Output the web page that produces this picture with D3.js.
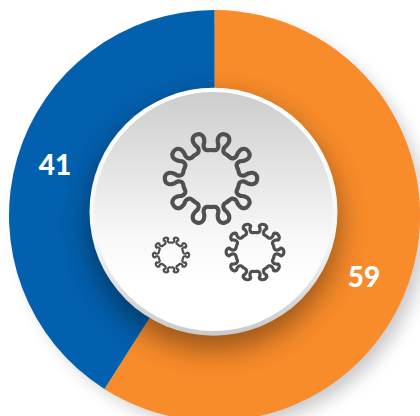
<!DOCTYPE html>
<html>
<head>
<meta charset="utf-8">
<script src="https://cdn.jsdelivr.net/npm/d3@7"></script>
<style>
    html, body { margin: 0; padding: 0; background: #fff; }
    svg { display: block; }
</style>
</head>
<body>
<svg id="chart" width="420" height="416"></svg>
<script>
const categories = ['orange', 'blue'];
const values = [59, 41];
const colors = ['#f88b2a', '#0360ae'];

const svg = d3.select('#chart');
const defs = svg.append('defs');

const cx = 214.5, cy = 215.5, outerR = 205.5;

const addBlur = (id, dev) => {
    defs.append('filter').attr('id', id)
        .attr('x', '-30%').attr('y', '-30%').attr('width', '160%').attr('height', '160%')
        .append('feGaussianBlur').attr('stdDeviation', dev);
};
addBlur('ringShadow', 9);
addBlur('discShadow', 14);

const addGradient = (id, stops) => {
    const g = defs.append('linearGradient').attr('id', id)
        .attr('x1', 0).attr('y1', 0).attr('x2', 0).attr('y2', 1);
    stops.forEach((s) => {
        g.append('stop').attr('offset', s[0]).attr('stop-color', s[1]);
    });
};
addGradient('rimFill', [[0, '#ffffff'], [0.62, '#f6f6f6'], [0.86, '#d8d8d8'], [1, '#c9c9c9']]);
addGradient('discFill', [[0, '#cdcdcd'], [0.3, '#e2e2e2'], [0.62, '#f9f9f9'], [0.8, '#ffffff'], [1, '#ffffff']]);

// soft shadow falling to the lower right of the ring
svg.append('circle')
    .attr('cx', cx + 9).attr('cy', cy + 9).attr('r', outerR - 3)
    .attr('fill', '#000').attr('opacity', 0.22)
    .attr('filter', 'url(#ringShadow)');

const pie = d3.pie().sort(null).value((d) => d.value);
const arc = d3.arc().innerRadius(100).outerRadius(outerR);
const slices = pie(categories.map((c, i) => ({name: c, value: values[i]})));

const chart = svg.append('g').attr('transform', 'translate(' + cx + ',' + cy + ')');
chart.selectAll('path.slice').data(slices).enter().append('path')
    .classed('slice', true)
    .attr('d', arc)
    .attr('fill', (d, i) => colors[i]);

// keep the disc shadow on the ring only
defs.append('clipPath').attr('id', 'ringClip').append('circle')
    .attr('cx', cx).attr('cy', cy).attr('r', outerR);
svg.append('g').attr('clip-path', 'url(#ringClip)')
    .append('circle')
    .attr('cx', 213).attr('cy', 224).attr('r', 126)
    .attr('fill', '#000').attr('opacity', 0.38)
    .attr('filter', 'url(#discShadow)');

// centre disc
svg.append('circle')
    .attr('cx', 213.5).attr('cy', 211.7).attr('r', 124)
    .attr('fill', 'url(#rimFill)');
svg.append('circle')
    .attr('cx', 213.5).attr('cy', 211.5).attr('r', 119.5)
    .attr('fill', 'url(#discFill)');

// virus outline: ring with round knobs on short necks
const virusPath = (r, tip, spikes, offset) => {
    const points = [];
    const step = 2 * Math.PI / spikes;
    // [sideways, outwards] in units of the ring radius
    const knob = [
        [-0.15, 1.0], [-0.105, 1.08], [-0.11, 1.18], [-0.175, 1.3], [-0.2, tip - 0.16],
        [-0.13, tip - 0.035], [0, tip], [0.13, tip - 0.035], [0.2, tip - 0.16],
        [0.175, 1.3], [0.11, 1.18], [0.105, 1.08], [0.15, 1.0]
    ];
    for (let k = 0; k < spikes; k++) {
        const mid = offset + k * step;
        const sin = Math.sin(mid), cos = Math.cos(mid);
        knob.forEach((p) => {
            points.push([(p[1] * sin + p[0] * cos) * r, (-p[1] * cos + p[0] * sin) * r]);
        });
        const between = mid + step / 2;
        points.push([Math.sin(between) * r, -Math.cos(between) * r]);
    }
    return d3.line().curve(d3.curveCatmullRomClosed.alpha(0.5))(points);
};

const viruses = [
    {x: 211, y: 178.5, r: 28.5, tip: 1.62, width: 4.2},
    {x: 255, y: 252, r: 19.5, tip: 1.48, width: 3.2},
    {x: 171, y: 255, r: 12.5, tip: 1.45, width: 2.2}
];
svg.selectAll('path.virus').data(viruses).enter().append('path')
    .classed('virus', true)
    .attr('transform', (d) => 'translate(' + d.x + ',' + d.y + ')')
    .attr('d', (d) => virusPath(d.r, d.tip, 10, Math.PI / 10))
    .attr('fill', 'none')
    .attr('stroke', '#505050')
    .attr('stroke-width', (d) => d.width)
    .attr('stroke-linejoin', 'round');

// value labels sit mid ring
const labelPos = [[364, 276.5], [55, 165]];
svg.selectAll('text.value').data(slices).enter().append('text')
    .classed('value', true)
    .attr('x', (d, i) => labelPos[i][0])
    .attr('y', (d, i) => labelPos[i][1])
    .attr('dy', '0.36em')
    .attr('text-anchor', 'middle')
    .attr('font-family', 'Lato, sans-serif')
    .attr('font-weight', 900)
    .attr('font-size', 28)
    .attr('fill', '#fff')
    .text((d) => d.data.value);
</script>
</body>
</html>
